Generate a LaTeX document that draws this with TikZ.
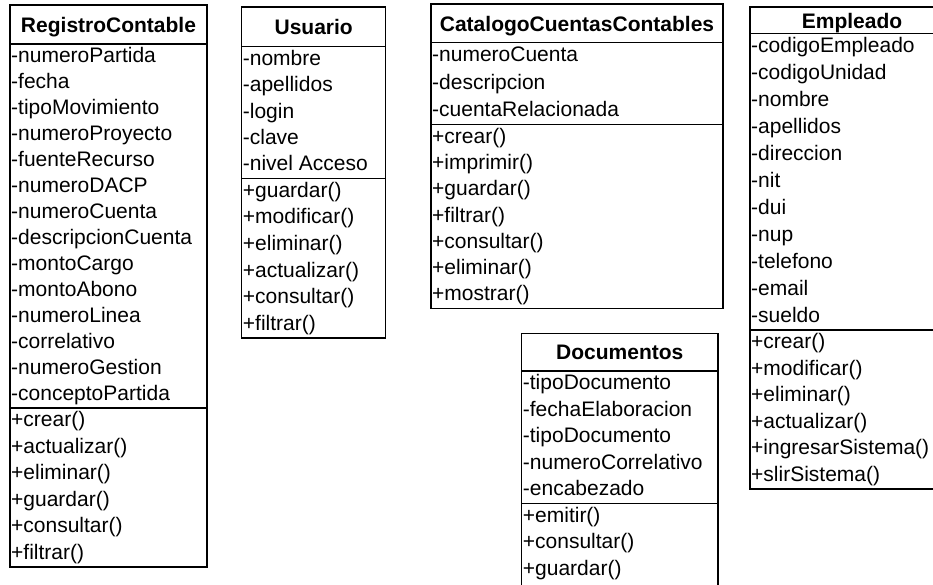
\documentclass[tikz,border=0pt]{standalone}
\usepackage{fontspec}
\setmainfont{Liberation Sans}
\tikzset{
  caja/.style={line width=1.3pt,black},
  titulo/.style={anchor=base,inner sep=0pt,font=\fontsize{21}{25}\selectfont\bfseries},
  campo/.style={anchor=base west,inner sep=0pt,font=\fontsize{21}{25}\selectfont}
}
\begin{document}
\begin{tikzpicture}[x=1pt,y=-1pt]
        \fill[white] (0,0) rectangle (933,584);
        \useasboundingbox (0,0) rectangle (933,584);
        \clip (0,0) rectangle (933,584);
        % clase RegistroContable
        \draw[caja] (10,5) rectangle (207,567);
        \draw[caja] (10,44) -- (207,44);
        \draw[caja] (10,408) -- (207,408);
        \node[titulo] (regT) at (108.5,32) {RegistroContable};
        \foreach \t [count=\i] in {numeroPartida,fecha,tipoMovimiento,numeroProyecto,fuenteRecurso,numeroDACP,numeroCuenta,descripcionCuenta,montoCargo,montoAbono,numeroLinea,correlativo,numeroGestion,conceptoPartida}
        \node[campo] (regA\i) at (11,{44+(\i-0.5)*26+5.5}) {-\t};
        \foreach \t [count=\i] in {crear(),actualizar(),eliminar(),guardar(),consultar(),filtrar()}
        \node[campo] (regM\i) at (11,{408+(\i-0.5)*26.5+5.5}) {+\t};
        % clase Usuario
        \draw[caja] (241.7,7) rectangle (385.7,338);
        \draw[caja] (241.7,46.7) -- (385.7,46.7);
        \draw[caja] (241.7,178.5) -- (385.7,178.5);
        \node[titulo] (usuT) at (313.7,34.5) {Usuario};
        \foreach \t [count=\i] in {nombre,apellidos,login,clave,nivel Acceso}
        \node[campo] (usuA\i) at (242.7,{46.7+(\i-0.5)*26.36+5.5}) {-\t};
        \foreach \t [count=\i] in {guardar(),modificar(),eliminar(),actualizar(),consultar(),filtrar()}
        \node[campo] (usuM\i) at (242.7,{178.5+(\i-0.5)*26.58+5.5}) {+\t};
        % clase CatalogoCuentasContables
        \draw[caja] (431,4) rectangle (723,308.5);
        \draw[caja] (431,42.7) -- (723,42.7);
        \draw[caja] (431,124.5) -- (723,124.5);
        \node[titulo] (catT) at (577,31.5) {CatalogoCuentasContables};
        \foreach \t [count=\i] in {numeroCuenta,descripcion,cuentaRelacionada}
        \node[campo] (catA\i) at (432,{42.7+(\i-0.5)*27.27+5.5}) {-\t};
        \foreach \t [count=\i] in {crear(),imprimir(),guardar(),filtrar(),consultar(),eliminar(),mostrar()}
        \node[campo] (catM\i) at (432,{124.5+(\i-0.5)*26.29+5.5}) {+\t};
        % clase Documentos
        \draw[caja] (521.7,333.3) rectangle (718,590);
        \draw[caja] (521.7,371) -- (718,371);
        \draw[caja] (521.7,503.5) -- (718,503.5);
        \node[titulo] (docT) at (619.8,359) {Documentos};
        \foreach \t [count=\i] in {tipoDocumento,fechaElaboracion,tipoDocumento,numeroCorrelativo,encabezado}
        \node[campo] (docA\i) at (522.7,{371+(\i-0.5)*26.5+5.5}) {-\t};
        \foreach \t [count=\i] in {emitir(),consultar(),guardar()}
        \node[campo] (docM\i) at (522.7,{503.5+(\i-0.5)*26.5+5.5}) {+\t};
        % clase Empleado
        \draw[caja] (750,7) rectangle (954,489);
        \draw[caja] (750,33.3) -- (954,33.3);
        \draw[caja] (750,330) -- (954,330);
        \node[titulo] (empT) at (852,28) {Empleado};
        \foreach \t [count=\i] in {codigoEmpleado,codigoUnidad,nombre,apellidos,direccion,nit,dui,nup,telefono,email,sueldo}
        \node[campo] (empA\i) at (751,{33.3+(\i-0.5)*27+5.5}) {-\t};
        \foreach \t [count=\i] in {crear(),modificar(),eliminar(),actualizar(),ingresarSistema(),slirSistema()}
        \node[campo] (empM\i) at (751,{330+(\i-0.5)*26.5+5.5}) {+\t};
\end{tikzpicture}
\end{document}
